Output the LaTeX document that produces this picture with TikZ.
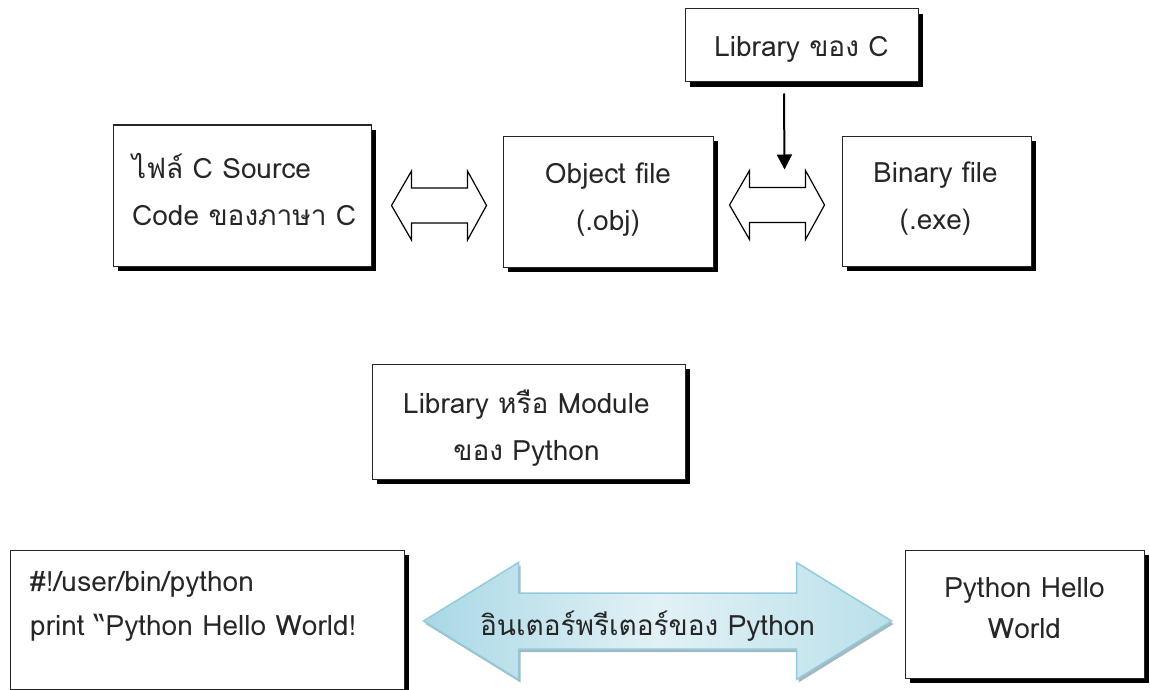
\documentclass[tikz,border=0pt]{standalone}
\usepackage{fontspec}
\newfontfamily\thai[Script=Thai]{Loma}
\usetikzlibrary{calc,shadows,arrows.meta}
\definecolor{arrowedge}{HTML}{92CCDC}
\definecolor{arrowdark}{HTML}{A9D8E5}
\definecolor{arrowlight}{HTML}{E2F1F6}
\definecolor{arrowshade}{HTML}{8FA7B0}

\begin{document}
\begin{tikzpicture}[x=1pt,y=-1pt,
  box/.style={rectangle,draw=black!85,line width=1pt,fill=white,inner sep=0pt,
    drop shadow={shadow xshift=5pt,shadow yshift=-5pt,fill=black,opacity=1}},
  txt/.style={inner sep=0pt,text=black!85,font=\thai\fontsize{28}{47}\selectfont},
  hollow/.style={draw=black,line width=1.2pt,fill=white,line join=miter},
  feed/.style={line width=2pt,-{Triangle[length=15pt,width=15pt]}},
  bigarrow/.style={draw=arrowedge,line width=1.5pt,left color=arrowdark,
    right color=arrowdark!80!white,middle color=arrowlight,
    drop shadow={shadow xshift=2pt,shadow yshift=-3pt,fill=arrowshade,opacity=0.8}}]

\fill[white] (0,0) rectangle (1150,690);
\useasboundingbox (0,0) rectangle (1150,690);

% ---- C toolchain ----
\node[box,minimum width=258pt,minimum height=141pt] (src) at (242,195.5) {};
\node[box,minimum width=210pt,minimum height=131pt] (obj) at (608,201.5) {};
\node[box,minimum width=233pt,minimum height=73pt]  (libc) at (801.5,45.5) {};
\node[box,minimum width=189pt,minimum height=130pt] (bin) at (936.5,201) {};

\node[txt,anchor=west,align=left] (srcText) at (132,190) {ไฟล์ C Source\\Code ของภาษา C};
\node[txt,align=center] (objText) at (608,200) {Object file\\(.obj)};
\node[txt,anchor=base] (libcText) at (801.5,57) {Library ของ C};
\node[txt,align=center] (binText) at (935.5,199) {Binary file\\(.exe)};

% hollow double arrows between the C stages
\newcommand\hollowpair[2]{%
  \draw[hollow] (#1) -- ++(20,-34.5) -- ++(0,17) -- ($(#2)+(-19,-17.5)$)
    -- ++(0,-17) -- (#2) -- ++(-19,34.5) -- ++(0,-17) -- ($(#1)+(20,17.5)$)
    -- ++(0,17) -- cycle;}
\coordinate (aL) at ($(src.east)+(20,10)$);
\coordinate (aR) at ($(obj.west)+(-16,4)$);
\coordinate (bL) at ($(obj.east)+(16,3.5)$);
\coordinate (bR) at ($(bin.west)+(-17,4)$);
\hollowpair{aL}{aR}
\hollowpair{bL}{bR}

% library feeding the linker
\coordinate (feedStart) at ($(libc.south)+(-17.5,11)$);
\coordinate (feedEnd) at ($(bL)+(55,-35.5)$);
\draw[feed] (feedStart) -- (feedEnd);

% ---- Python ----
\node[box,minimum width=313pt,minimum height=115pt] (libpy) at (528.5,421.5) {};
\node[box,minimum width=394pt,minimum height=139pt] (code) at (207,619.5) {};
\node[box,minimum width=239pt,minimum height=128pt] (out) at (1024.5,614) {};

\node[txt,align=center] (libpyText) at (526.5,428) {Library หรือ Module\\ของ Python};
\node[txt,anchor=west,align=left,font=\thai\fontsize{28}{44}\selectfont] (codeText) at (30,606) {\#!/user/bin/python\\print “Python Hello World!};
\node[txt,align=center,font=\thai\fontsize{28}{41}\selectfont] (outText) at (1024.5,608) {Python Hello\\World};

\coordinate (pL) at ($(code.east)+(19,1.5)$);
\coordinate (pR) at ($(out.west)+(-13,7)$);
\draw[bigarrow] (pL) -- ++(95,-58.5) -- ++(0,30.5) -- ($(pR)+(-95,-28)$)
  -- ++(0,-30.5) -- (pR) -- ++(-95,58.5) -- ++(0,-30.5) -- ($(pL)+(95,28)$)
  -- ++(0,30.5) -- cycle;
\node[txt,anchor=base] (interp) at (647.5,635) {อินเตอร์พรีเตอร์ของ Python};
\end{tikzpicture}
\end{document}
